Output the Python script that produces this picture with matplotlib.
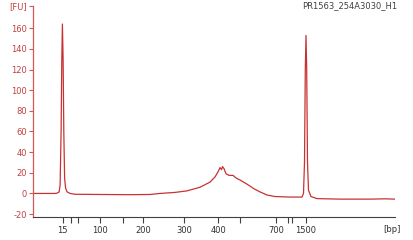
import matplotlib
matplotlib.use("Agg")
import matplotlib.pyplot as plt

# migration time (s) and fluorescence (FU)
time_s = [40.0, 44.4, 44.8, 45.2, 45.4, 45.6, 45.74, 45.86, 46.0, 46.14, 46.3, 46.5,
          46.8, 47.4, 48.4, 53.4, 59.4, 63.4, 65.4, 68.4, 70.8, 73.4, 75.4, 76.4,
          77.0, 77.4, 77.7, 77.9, 78.2, 78.6, 79.2, 80.0, 80.6, 81.4, 82.8, 84.2,
          85.4, 86.8, 88.4, 91.4, 93.8, 94.1, 94.3, 94.46, 94.6, 94.74, 94.9, 95.1,
          95.6, 96.8, 101.4, 107.4, 110.4, 112.4]
fu = [0, 0, 0.3, 1.5, 8, 60, 130, 164, 130, 60, 15, 5,
      1.5, 0, -0.8, -1, -1.2, -1, 0, 1, 2.5, 6, 11, 16,
      21, 25, 23, 26, 24, 19, 17.5, 17.5, 15, 13, 9, 4.5,
      1.5, -1.5, -3, -3.5, -3.5, 0, 30, 120, 153, 120, 30, 3,
      -3, -5, -5.5, -5.5, -5.2, -5.5]

# ladder sizes (bp) and their migration times
ladder_bp = [15, 25, 50, 100, 150, 200, 300, 400, 500, 700, 850, 1000, 1500]
ladder_time = [45.94, 47.54, 49.06, 53.4, 58.06, 62.06, 70.26, 77.06, 81.4,
               88.6, 91.06, 91.74, 94.6]
labelled_bp = [15, 100, 200, 300, 400, 700, 1500]

y_ticks = [-20, 0, 20, 40, 60, 80, 100, 120, 140, 160]
y_top = 181.5
sample_name = "PR1563_254A3030_H1"

red = "#c83232"
axis_red = "#d05a5a"
grey = "#404040"

fig = plt.figure(figsize=(4.14, 2.4), dpi=100)
ax = fig.add_axes([0.08, 0.095, 0.874, 0.88])

ax.plot(time_s, fu, color=red, lw=0.9)

ax.set_xlim(40, 112.4)
ax.set_ylim(-23, y_top)

ax.set_yticks(y_ticks + [y_top])
ax.set_yticklabels([str(v) for v in y_ticks] + ["[FU]"])
ax.set_xticks(ladder_time)
ax.set_xticklabels([str(b) if b in labelled_bp else "" for b in ladder_bp])

for s in ["top", "right"]:
    ax.spines[s].set_visible(False)
ax.spines["left"].set_color(axis_red)
ax.spines["bottom"].set_color(grey)
ax.spines["left"].set_linewidth(0.9)
ax.spines["bottom"].set_linewidth(0.8)

ax.tick_params(axis="y", colors=axis_red, labelcolor="#c04040", labelsize=6,
               length=3, width=0.8, pad=1.5)
ax.tick_params(axis="x", colors=grey, labelcolor="#303030", labelsize=6,
               length=4, width=0.8, pad=2)

fig.text(0.845, 0.975, sample_name, fontsize=6, color="#404040", ha="center", va="center")
fig.text(0.947, 0.045, "[bp]", fontsize=6, color="#303030", ha="center", va="center")

fig.savefig("out.png", dpi=100)
